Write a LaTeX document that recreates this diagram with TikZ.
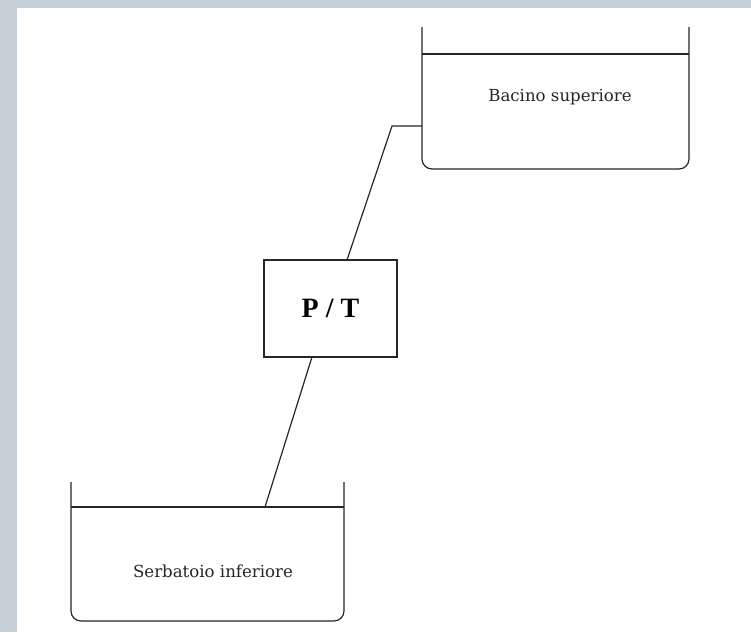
\documentclass[tikz,border=0pt]{standalone}
\usepackage{fontspec}
\setmainfont{DejaVu Serif}
\newfontfamily\ptfont{Liberation Serif}
\definecolor{bgframe}{HTML}{C5D0D8}
\begin{document}
\begin{tikzpicture}[x=1pt,y=-1pt,
  line/.style={draw=black!85, line width=1.2pt},
  tank/.style={line, rounded corners=10pt},
  lbl/.style={font=\fontsize{16.6}{18}\selectfont, text=black!85},
  ptbox/.style={line, minimum width=133pt, minimum height=97pt, inner sep=0pt,
    font=\ptfont\bfseries\fontsize{28}{30}\selectfont}]
\useasboundingbox (0,0) rectangle (751,632);
\fill[bgframe] (0,0) rectangle (751,632);
\fill[white] (17,8) rectangle (751,632);

% upper basin
\draw[tank] (422,27) -- (422,169) -- (689,169) -- (689,27);
\draw[line] (422,54) -- (689,54);
\node[lbl] (upper) at (560,97) {Bacino superiore};

% lower reservoir
\draw[tank] (71,482) -- (71,621) -- (344,621) -- (344,482);
\draw[line] (71,507) -- (344,507);
\node[lbl] (lower) at (213,571) {Serbatoio inferiore};

% pump / turbine
\node[ptbox, draw] (pt) at (330.5,308.5) {P / T};

% penstock
\coordinate (uin) at (422,126);
\coordinate (bend) at (392,126);
\coordinate (pttop) at (347,260);
\coordinate (ptbot) at (312,357);
\coordinate (lin) at (265,507);
\draw[line] (uin) -- (bend) -- (pttop);
\draw[line] (ptbot) -- (lin);
\end{tikzpicture}
\end{document}
